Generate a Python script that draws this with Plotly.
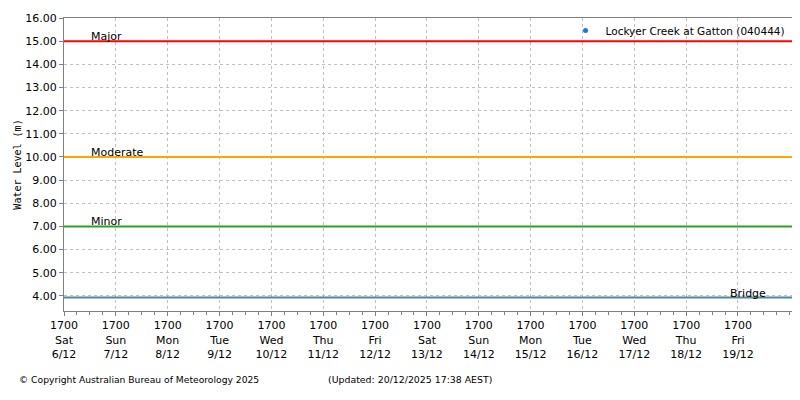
import plotly.graph_objects as go
from datetime import datetime, timedelta

# ---- data ----
series_name = "Lockyer Creek at Gatton (040444)"
series_x = [datetime(2025, 12, 6, 17, 0)]   # no observations visible in range
series_y = [None]

threshold_names = ["Major", "Moderate", "Minor", "Bridge"]
threshold_values = [15.0, 10.0, 7.0, 3.93]
threshold_colors = ["#ff0000", "#ffa500", "#2ca02c", "#4a8a99"]

tick_days = ["Sat", "Sun", "Mon", "Tue", "Wed", "Thu", "Fri",
             "Sat", "Sun", "Mon", "Tue", "Wed", "Thu", "Fri"]
tick_dates = ["6/12", "7/12", "8/12", "9/12", "10/12", "11/12", "12/12",
              "13/12", "14/12", "15/12", "16/12", "17/12", "18/12", "19/12"]

x_start = datetime(2025, 12, 6, 17, 0)
x_end = datetime(2025, 12, 20, 18, 0)
tickvals = [x_start + timedelta(days=i) for i in range(len(tick_days))]
ticktext = [f"1700<br>{d}<br>{dt}" for d, dt in zip(tick_days, tick_dates)]

FONT = "DejaVu Sans"

fig = go.Figure()

for name, val, col in zip(threshold_names, threshold_values, threshold_colors):
    fig.add_trace(go.Scatter(x=[x_start, x_end], y=[val, val], mode="lines",
                             line=dict(color=col, width=2), showlegend=False,
                             hoverinfo="skip"))

fig.add_trace(go.Scatter(x=series_x, y=series_y, mode="markers", name=series_name,
                         marker=dict(color="#1a75e8", size=5),
                         showlegend=True))

# labels for thresholds
label_pos = {"Major": (x_start + timedelta(hours=11.5), "left"),
             "Moderate": (x_start + timedelta(hours=11.5), "left"),
             "Minor": (x_start + timedelta(hours=11.5), "left"),
             "Bridge": (x_start + timedelta(days=13, hours=14), "right")}
for name, val in zip(threshold_names, threshold_values):
    xp, anc = label_pos[name]
    fig.add_annotation(x=xp, y=val, text=name, showarrow=False, xanchor=anc,
                       yanchor="bottom", yshift=-4,
                       font=dict(family=FONT, size=11, color="#000000"))

fig.add_annotation(xref="paper", yref="paper", x=-0.065, y=-0.235, xanchor="left",
                   yanchor="middle", text="© Copyright Australian Bureau of Meteorology 2025",
                   showarrow=False, font=dict(family=FONT, size=9.2, color="#000"))
fig.add_annotation(xref="paper", yref="paper", x=0.36, y=-0.235, xanchor="left",
                   yanchor="middle", text="(Updated: 20/12/2025 17:38 AEST)",
                   showarrow=False, font=dict(family=FONT, size=9.4, color="#000"))

fig.update_layout(
    width=784, height=384,
    margin=dict(l=56, r=0, t=10, b=81),
    paper_bgcolor="white", plot_bgcolor="white",
    font=dict(family=FONT, size=11, color="#000"),
    showlegend=True,
    legend=dict(x=0.998, y=1.007, xanchor="right", yanchor="top",
                bgcolor="rgba(255,255,255,0)", font=dict(family=FONT, size=10.5),
                itemwidth=30),
    xaxis=dict(range=[x_start, x_end], tickmode="array", tickvals=tickvals,
               ticktext=ticktext, showgrid=True, gridcolor="#c0c0c0", griddash="dot",
               gridwidth=1, showline=True, linecolor="#808080", linewidth=1, mirror=True,
               ticks="outside", ticklen=4, tickcolor="#808080", zeroline=False,
               automargin=False,
               tickfont=dict(family=FONT, size=11),
               minor=dict(tickmode="linear", tick0=x_start, dtick=6 * 3600 * 1000,
                          ticks="outside", ticklen=3, tickcolor="#808080", showgrid=False)),
    yaxis=dict(range=[3.35, 16.0], tickmode="linear", tick0=4, dtick=1, tickformat=".2f",
               showgrid=True, gridcolor="#c0c0c0", griddash="dot", gridwidth=1,
               showline=True, linecolor="#808080", linewidth=1, mirror=True,
               ticks="outside", ticklen=4, tickcolor="#808080", zeroline=False,
               automargin=False,
               tickfont=dict(family=FONT, size=11),
               title=dict(text="Water Level (m)", standoff=1,
                          font=dict(family="DejaVu Sans Mono", size=10))),
)

fig.write_html("out.html")
